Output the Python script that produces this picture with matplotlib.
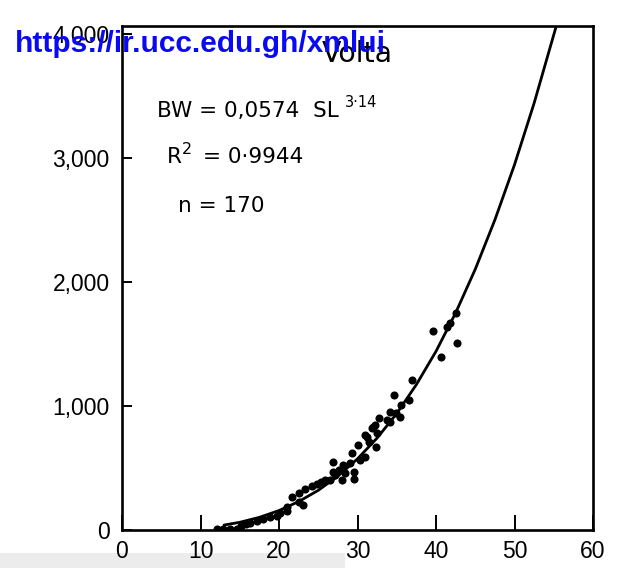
import matplotlib
matplotlib.use("Agg")
import matplotlib.pyplot as plt
from matplotlib.patches import Rectangle

# Observed points (standard length, body weight)
sl = [12.1, 12.9, 13.7, 14.6, 15.2, 15.8, 16.3, 17.2, 18.0, 18.9, 19.7, 20.1,
      21.0, 21.0, 21.6, 22.5, 22.6, 23.1, 23.3, 24.2, 24.8, 25.4, 25.9, 26.5,
      26.9, 26.9, 27.1, 27.7, 28.0, 28.2, 28.4, 29.0, 29.3, 29.5, 29.5, 30.1,
      30.3, 31.0, 31.0, 31.2, 31.5, 31.8, 32.0, 32.2, 32.4, 32.5, 32.8, 33.7,
      34.1, 34.2, 34.7, 34.9, 35.4, 35.6, 36.5, 37.0, 39.6, 40.7, 41.4, 41.8,
      42.6, 42.7]
bw = [6, 8, 5, 10, 35, 45, 60, 75, 90, 105, 115, 134,
      150, 188, 270, 228, 300, 205, 330, 355, 370, 385, 400, 405,
      470, 551, 444, 484, 403, 524, 462, 538, 618, 470, 409, 685,
      565, 766, 591, 752, 712, 820, 833, 847, 672, 780, 900, 887,
      954, 874, 1089, 941, 914, 1008, 1048, 1212, 1605, 1393, 1640, 1667,
      1747, 1505]

# Fitted curve
curve_sl = [13, 15, 17.5, 20, 22.5, 25, 27.5, 30, 32.5, 35, 37.5, 40,
            42.5, 45, 47.5, 50, 52.5, 55, 55.3]
curve_bw = [40, 62, 102, 157, 229, 320, 434, 574, 742, 940, 1173, 1441,
            1751, 2103, 2501, 2946, 3443, 3994, 4060]

x_ticks = [0, 10, 20, 30, 40, 50, 60]
x_tick_labels = ["0", "10", "20", "30", "40", "50", "60"]
y_ticks = [0, 1000, 2000, 3000, 4000]
y_tick_labels = ["0", "1,000", "2,000", "3,000", "4,000"]

W, H = 637, 568
fig = plt.figure(figsize=(W / 100, H / 100), dpi=100)
fig.patch.set_facecolor("white")

def fx(px):
    return px / W

def fy(py):
    return 1 - py / H

ax = fig.add_axes([fx(122), fy(530), (593 - 122) / W, (530 - 26) / H])
ax.plot(curve_sl, curve_bw, color="black", lw=2.0, solid_capstyle="round", zorder=2)
ax.scatter(sl, bw, s=34, color="black", zorder=3, linewidths=0)

ax.set_xlim(0, 60)
ax.set_ylim(0, 4065)
ax.set_xticks(x_ticks)
ax.set_xticklabels(x_tick_labels)
ax.set_yticks(y_ticks)
ax.set_yticklabels(y_tick_labels)

tick_font = ["Liberation Sans", "DejaVu Sans"]
for lab in ax.get_xticklabels() + ax.get_yticklabels():
    lab.set_family(tick_font)
    lab.set_fontsize(16.5)
ax.tick_params(axis="x", direction="in", length=11, width=1.4, pad=7)
ax.tick_params(axis="y", direction="in", length=7, width=1.4, pad=9)
for s in ax.spines.values():
    s.set_linewidth(1.9)

# light grey band at the bottom-left (scan artefact)
fig.patches.append(Rectangle((0, 0), fx(345), (H - 553) / H, transform=fig.transFigure,
                             facecolor="#ececec", edgecolor="none", zorder=-1))

ann = dict(family="DejaVu Sans", color="black", va="baseline", ha="left")
fig.text(fx(322), fy(62), "Volta", fontsize=20.5, **ann)
fig.text(fx(157), fy(117), "BW = 0,0574  SL", fontsize=15.5, **ann)
fig.text(fx(345), fy(107), "3·14", fontsize=10.5, **ann)
fig.text(fx(167), fy(163), "R", fontsize=15.5, **ann)
fig.text(fx(182), fy(154), "2", fontsize=11.5, **ann)
fig.text(fx(203), fy(163), "= 0·9944", fontsize=15.5, **ann)
fig.text(fx(178), fy(212), "n = 170", fontsize=15.5, **ann)

fig.text(fx(15), fy(52), "https://ir.ucc.edu.gh/xmlui", fontsize=21.5,
         family=["Liberation Sans", "DejaVu Sans"], weight="bold",
         color="#0a0af2", va="baseline", ha="left", zorder=10)

fig.savefig("out.png", dpi=100)
